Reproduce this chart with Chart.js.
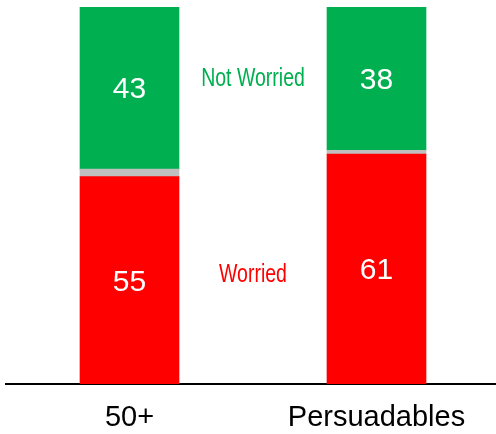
<!DOCTYPE html>
<html>
<head>
<meta charset="utf-8">
<script src="https://cdn.jsdelivr.net/npm/chart.js@4.4.0/dist/chart.umd.min.js"></script>
<style>
  html, body { margin: 0; padding: 0; background: #ffffff; overflow: hidden; }
  #wrap { width: 496px; height: 434px; position: relative; overflow: hidden; }
</style>
</head>
<body>
<div id="wrap"><canvas id="c" width="500" height="434"></canvas></div>
<script>
const categories = ['50+', 'Persuadables'];
const worried = [55, 61];
const gap = [2, 1];
const notWorried = [43, 38];
const seriesNames = ['Worried', 'Gap', 'Not Worried'];
const yMax = 100;
// annotation positions (value units on y axis)
const annotationY = { 'Not Worried': 81.4, 'Worried': 29.4 };

const RED = '#FF0000', GREEN = '#00B050', GREY = '#C0C0C0';

const labelPlugin = {
  id: 'labels',
  afterDatasetsDraw(chart) {
    const ctx = chart.ctx;
    ctx.save();
    ctx.textAlign = 'center';
    ctx.textBaseline = 'middle';
    ctx.fillStyle = '#ffffff';
    ctx.font = '30px "Liberation Sans", Arial, sans-serif';
    [0, 2].forEach(di => {
      const meta = chart.getDatasetMeta(di);
      meta.data.forEach((bar, i) => {
        const v = chart.data.datasets[di].data[i];
        const yc = (bar.y + bar.base) / 2;
        ctx.fillText(String(v), bar.x, yc + 2);
      });
    });
    const xs = chart.scales.x, ys = chart.scales.y;
    const xm = (xs.getPixelForValue(0) + xs.getPixelForValue(1)) / 2;
    ctx.font = '25px "Liberation Sans", Arial, sans-serif';
    const drawNarrow = (text, color, x, y) => {
      ctx.save();
      ctx.translate(x, y);
      ctx.scale(0.78, 1);
      ctx.fillStyle = color;
      ctx.fillText(text, 0, 0);
      ctx.restore();
    };
    drawNarrow('Not Worried', GREEN, xm, ys.getPixelForValue(annotationY['Not Worried']) + 2);
    drawNarrow('Worried', RED, xm, ys.getPixelForValue(annotationY['Worried']) + 2);
    ctx.restore();
  }
};

new Chart(document.getElementById('c'), {
  type: 'bar',
  data: {
    labels: categories,
    datasets: [
      { label: seriesNames[0], data: worried, backgroundColor: RED, barThickness: 99 },
      { label: seriesNames[1], data: gap, backgroundColor: GREY, barThickness: 99 },
      { label: seriesNames[2], data: notWorried, backgroundColor: GREEN, barThickness: 99 }
    ]
  },
  options: {
    responsive: false,
    animation: false,
    devicePixelRatio: 1,
    layout: { padding: { top: 7, left: 6, right: 0, bottom: 0 } },
    plugins: { legend: { display: false }, tooltip: { enabled: false } },
    scales: {
      x: {
        stacked: true,
        grid: { display: false, drawTicks: false },
        border: { display: true, color: '#000000', width: 2 },
        ticks: { color: '#000000', padding: 17, font: { size: 29, family: '"Liberation Sans", Arial, sans-serif' } },
        afterFit: (scale) => { scale.height = 50; }
      },
      y: {
        stacked: true,
        display: false,
        min: 0,
        max: yMax
      }
    }
  },
  plugins: [labelPlugin]
});
</script>
</body>
</html>
